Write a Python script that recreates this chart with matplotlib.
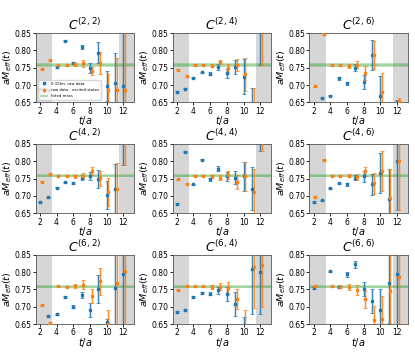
import numpy as np
import matplotlib
matplotlib.use("Agg")
import matplotlib.pyplot as plt
from matplotlib.patches import Patch

nan = np.nan
t = np.arange(2, 13)
titles = ["$C^{(2,2)}$", "$C^{(2,4)}$", "$C^{(2,6)}$",
          "$C^{(4,2)}$", "$C^{(4,4)}$", "$C^{(4,6)}$",
          "$C^{(6,2)}$", "$C^{(6,4)}$", "$C^{(6,6)}$"]

# raw data (blue)
raw_22 = [0.690, 0.685, 0.752, 0.828, 0.764, 0.810, 0.750, 0.793, 0.697, 0.705, 0.697]
raw_22e = [0.002, 0.002, 0.002, 0.002, 0.004, 0.007, 0.015, 0.030, 0.043, 0.088, 0.2]
raw_24 = [0.680, 0.690, 0.721, 0.737, 0.733, 0.752, 0.734, 0.752, 0.724, 0.630, 0.900]
raw_24e = [0.002, 0.002, 0.002, 0.002, 0.004, 0.008, 0.013, 0.020, 0.050, 0.062, 0.142]
raw_26 = [nan, 0.663, 0.669, 0.719, 0.705, 0.750, 0.710, 0.786, 0.667, nan, 0.652]
raw_26e = [0.002, 0.002, 0.002, 0.003, 0.005, 0.010, 0.020, 0.043, 0.058, 0.0, 0.006]
raw_42 = [0.681, 0.696, 0.724, 0.739, 0.737, 0.753, 0.758, 0.749, 0.702, 0.719, 0.870]
raw_42e = [0.002, 0.002, 0.002, 0.002, 0.004, 0.006, 0.012, 0.025, 0.040, 0.072, 0.080]
raw_44 = [0.676, 0.828, 0.733, 0.805, 0.748, 0.779, 0.757, 0.753, 0.757, 0.721, 0.900]
raw_44e = [0.002, 0.002, 0.002, 0.002, 0.004, 0.006, 0.013, 0.020, 0.042, 0.063, 0.070]
raw_46 = [0.682, 0.687, 0.722, 0.736, 0.733, 0.752, 0.756, 0.733, 0.765, 0.690, 0.800]
raw_46e = [0.002, 0.002, 0.002, 0.002, 0.004, 0.007, 0.015, 0.030, 0.058, 0.087, 0.140]
raw_62 = [nan, 0.673, 0.678, 0.727, 0.700, 0.733, 0.690, 0.752, 0.655, 0.755, 0.795]
raw_62e = [0.002, 0.002, 0.002, 0.003, 0.005, 0.008, 0.020, 0.040, 0.010, 0.300, 0.300]
raw_64 = [0.685, 0.690, 0.728, 0.740, 0.737, 0.747, 0.736, 0.708, 0.645, 0.810, 0.800]
raw_64e = [0.002, 0.002, 0.002, 0.003, 0.004, 0.010, 0.020, 0.035, 0.025, 0.130, 0.120]
raw_66 = [0.754, nan, 0.802, 0.757, 0.793, 0.822, 0.752, 0.716, 0.689, 0.769, 0.793]
raw_66e = [0.002, 0.002, 0.002, 0.003, 0.006, 0.010, 0.020, 0.035, 0.062, 0.115, 0.300]

# raw data - excited states (orange)
exc_22 = [0.747, 0.772, 0.758, 0.758, 0.760, 0.763, 0.741, 0.764, 0.687, 0.687, 0.687]
exc_22e = [0.002, 0.002, 0.002, 0.002, 0.005, 0.010, 0.012, 0.032, 0.045, 0.090, 0.200]
exc_24 = [0.744, 0.725, 0.758, 0.758, 0.756, 0.766, 0.748, 0.758, 0.731, 0.620, 0.900]
exc_24e = [0.002, 0.002, 0.002, 0.002, 0.004, 0.006, 0.012, 0.018, 0.048, 0.072, 0.142]
exc_26 = [0.697, 0.847, 0.758, 0.759, 0.755, 0.759, 0.736, 0.787, 0.681, nan, 0.655]
exc_26e = [0.002, 0.002, 0.002, 0.003, 0.005, 0.010, 0.020, 0.040, 0.055, 0.0, 0.008]
exc_42 = [0.741, 0.763, 0.758, 0.758, 0.757, 0.758, 0.771, 0.751, 0.711, 0.719, 0.870]
exc_42e = [0.002, 0.002, 0.002, 0.002, 0.004, 0.008, 0.012, 0.022, 0.040, 0.075, 0.080]
exc_44 = [0.748, 0.735, 0.758, 0.758, 0.756, 0.753, 0.760, 0.739, 0.757, 0.712, 0.900]
exc_44e = [0.002, 0.002, 0.002, 0.002, 0.003, 0.006, 0.012, 0.020, 0.042, 0.065, 0.070]
exc_46 = [0.697, 0.805, 0.758, 0.758, 0.758, 0.755, 0.771, 0.736, 0.772, 0.694, 0.800]
exc_46e = [0.002, 0.002, 0.002, 0.002, 0.004, 0.008, 0.013, 0.030, 0.058, 0.085, 0.140]
exc_62 = [0.705, 0.653, 0.759, 0.758, 0.759, 0.764, 0.730, 0.773, 0.650, 0.769, 0.803]
exc_62e = [0.002, 0.002, 0.002, 0.002, 0.006, 0.012, 0.020, 0.038, 0.040, 0.300, 0.300]
exc_64 = [0.747, 0.759, 0.759, 0.759, 0.757, 0.758, 0.754, 0.722, 0.640, 0.815, 0.820]
exc_64e = [0.002, 0.002, 0.002, 0.002, 0.005, 0.010, 0.017, 0.030, 0.050, 0.120, 0.120]
exc_66 = [0.760, nan, 0.759, 0.758, 0.757, 0.749, 0.721, 0.661, 0.663, 0.745, 0.785]
exc_66e = [0.002, 0.002, 0.002, 0.005, 0.008, 0.014, 0.024, 0.040, 0.067, 0.300, 0.300]

raw_all = [(raw_22, raw_22e), (raw_24, raw_24e), (raw_26, raw_26e),
           (raw_42, raw_42e), (raw_44, raw_44e), (raw_46, raw_46e),
           (raw_62, raw_62e), (raw_64, raw_64e), (raw_66, raw_66e)]
exc_all = [(exc_22, exc_22e), (exc_24, exc_24e), (exc_26, exc_26e),
           (exc_42, exc_42e), (exc_44, exc_44e), (exc_46, exc_46e),
           (exc_62, exc_62e), (exc_64, exc_64e), (exc_66, exc_66e)]

fit_mass = 0.758
fit_err = 0.0045

BLUE = "#1f77b4"
ORANGE = "#ff7f0e"

fig, axes = plt.subplots(3, 3, figsize=(4.15, 3.6), dpi=100)
fig.subplots_adjust(left=0.086, right=0.983, top=0.908, bottom=0.100,
                    wspace=0.39, hspace=0.60)


def draw(ax, x, y, e, color):
    x = np.asarray(x, float)
    y = np.asarray(y, float)
    e = np.asarray(e, float)
    ax.errorbar(x, y, yerr=e, fmt='none', ecolor=color, elinewidth=1.8,
                alpha=0.3, capsize=0, zorder=2)
    ax.errorbar(x, y, yerr=e, fmt='s', color=color, ms=1.5, elinewidth=0.6,
                capsize=1.5, capthick=0.5, zorder=3)


for i, ax in enumerate(axes.flat):
    ax.axvspan(1.5, 3.5, color='#d6d6d6', lw=0, zorder=0)
    ax.axvspan(11.45, 13.3, color='#d6d6d6', lw=0, zorder=0)
    ax.axhspan(fit_mass - fit_err, fit_mass + fit_err, color='#2ca02c',
               alpha=0.3, lw=0, zorder=1)
    ax.axhline(fit_mass, color='#2ca02c', alpha=0.25, lw=1.2, zorder=1)
    ry, re = raw_all[i]
    ey, ee = exc_all[i]
    draw(ax, t, ry, re, BLUE)
    draw(ax, t + 0.2, ey, ee, ORANGE)
    ax.set_xlim(1.5, 13.3)
    ax.set_ylim(0.65, 0.85)
    ax.set_xticks([2, 4, 6, 8, 10, 12])
    ax.set_yticks([0.65, 0.70, 0.75, 0.80, 0.85])
    ax.set_yticklabels(["0.65", "0.70", "0.75", "0.80", "0.85"])
    ax.tick_params(labelsize=5.5, length=2.2, width=0.6, pad=1)
    ax.set_title(titles[i], fontsize=9, pad=0.3)
    ax.set_xlabel("$t/a$", fontsize=7, labelpad=-1)
    ax.set_ylabel("$aM_{eff}(t)$", fontsize=6.8, labelpad=0)
    for sp in ax.spines.values():
        sp.set_linewidth(0.6)
        sp.set_color('#555555')

ax0 = axes[0, 0]
h_raw = ax0.errorbar([], [], yerr=[], fmt='s', color=BLUE, ms=1.5,
                     elinewidth=0.6, capsize=1.5)
h_exc = ax0.errorbar([], [], yerr=[], fmt='s', color=ORANGE, ms=1.5,
                     elinewidth=0.6, capsize=1.5)
h_fit = Patch(facecolor='#2ca02c', alpha=0.35)
ax0.legend([h_raw, h_exc, h_fit],
           ["0.15fm, raw data", "raw data - excited states", "fitted mass"],
           loc='lower left', fontsize=2.8, handlelength=2.2, borderpad=0.5,
           labelspacing=0.6, frameon=True, framealpha=0.8)

fig.savefig("out.png", dpi=100)
